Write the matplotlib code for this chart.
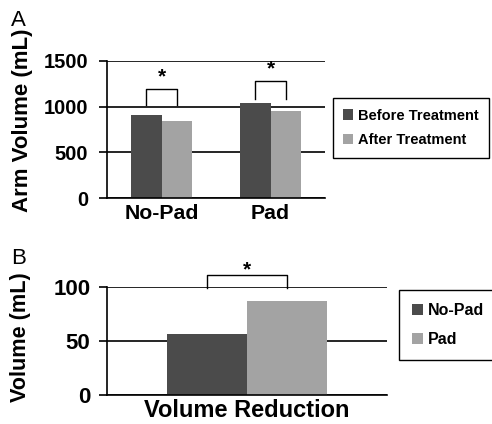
import numpy as np
import matplotlib
matplotlib.use('Agg')
from matplotlib import pyplot as plt
from matplotlib.patches import Patch

plt.rcParams['font.family'] = ['Liberation Sans', 'DejaVu Sans']

# panel A data
groups = ['No-Pad', 'Pad']
before = [905, 1035]
after = [846, 955]
series_a = ['Before Treatment', 'After Treatment']
yticks_a = [0, 500, 1000, 1500]

# panel B data
reduction_labels = ['No-Pad', 'Pad']
reduction = [56, 87]
category_b = ['Volume Reduction']
yticks_b = [0, 50, 100]

dark = '#4b4b4b'
light = '#a3a3a3'
W, H = 492, 424

fig = plt.figure(figsize=(W / 100, H / 100), dpi=100)

def style(ax, ticks, fs, ypad, xpad):
    for s in ['top', 'right']:
        ax.spines[s].set_visible(False)
    ax.spines['left'].set_linewidth(1.2)
    ax.spines['bottom'].set_linewidth(1.2)
    ax.set_yticks(ticks)
    ax.set_yticklabels([str(t) for t in ticks], fontsize=fs, fontweight='bold')
    ax.tick_params(axis='y', length=5.5, width=1.2, pad=ypad)
    ax.tick_params(axis='x', length=0, pad=xpad)
    for t in ticks:
        ax.axhline(t, color='black', lw=1.2, zorder=0)

def bracket(ax, x0, x1, lo, hi, star_y):
    ax.plot([x0, x0, x1, x1], [lo, hi, hi, lo], color='black', lw=1, clip_on=False)
    ax.text((x0 + x1) / 2, star_y, '*', ha='center', va='center', fontsize=15,
            fontweight='bold')

# ---- A ----
axA = fig.add_axes([107 / W, 1 - 198.3 / H, 218 / W, 137.6 / H])
x = np.arange(len(groups))
bw = 0.284
axA.bar(x - bw / 2, before, bw, color=dark, zorder=2)
axA.bar(x + bw / 2, after, bw, color=light, zorder=2)
axA.set_xlim(-0.5, 1.5)
axA.set_ylim(0, 1500)
style(axA, yticks_a, 14.5, 8.2, 4)
axA.set_xticks(x)
axA.set_xticklabels(groups, fontsize=15.3, fontweight='bold')
bracket(axA, x[0] - bw / 2, x[0] + bw / 2, 1017, 1188, 1320)
bracket(axA, x[1] - bw / 2, x[1] + bw / 2, 1083, 1279, 1410)

fig.text(23 / W, 1 - 120.5 / H, 'Arm Volume (mL)', rotation=90, ha='center',
         va='center', fontsize=16, fontweight='bold')
fig.text(11 / W, 1 - 20 / H, 'A', ha='left', va='center', fontsize=16)

hA = [Patch(facecolor=c) for c in (dark, light)]
fig.legend(hA, series_a, loc='upper left', bbox_to_anchor=(333 / W, 1 - 98.3 / H),
           borderaxespad=0, fancybox=False, edgecolor='black', framealpha=1,
           prop={'weight': 'bold', 'size': 10.5}, handlelength=0.7,
           handleheight=0.7, handletextpad=0.3, labelspacing=0.75,
           borderpad=0.7).get_frame().set_linewidth(1)

# ---- B ----
axB = fig.add_axes([107 / W, 1 - 394.7 / H, 279.7 / W, 108 / H])
bwb = 0.286
axB.bar([-bwb / 2], [reduction[0]], bwb, color=dark, zorder=2)
axB.bar([bwb / 2], [reduction[1]], bwb, color=light, zorder=2)
axB.set_xlim(-0.5, 0.5)
axB.set_ylim(0, 100)
style(axB, yticks_b, 16, 6.5, 3)
axB.set_xticks([0])
axB.set_xticklabels(category_b, fontsize=17, fontweight='bold')
bracket(axB, -bwb / 2, bwb / 2, 98.5, 110.8, 116)

fig.text(20.5 / W, 1 - 337 / H, 'Volume (mL)', rotation=90, ha='center',
         va='center', fontsize=15.6, fontweight='bold')
fig.text(11 / W, 1 - 258 / H, 'B', ha='left', va='center', fontsize=16)

hB = [Patch(facecolor=c) for c in (dark, light)]
fig.legend(hB, reduction_labels, loc='upper left', bbox_to_anchor=(399.3 / W, 1 - 290 / H),
           borderaxespad=0, fancybox=False, edgecolor='black', framealpha=1,
           prop={'weight': 'bold', 'size': 11.5}, handlelength=0.7,
           handleheight=0.7, handletextpad=0.3, labelspacing=0.9,
           borderpad=0.8).get_frame().set_linewidth(1)

fig.savefig('out.png', dpi=100)
